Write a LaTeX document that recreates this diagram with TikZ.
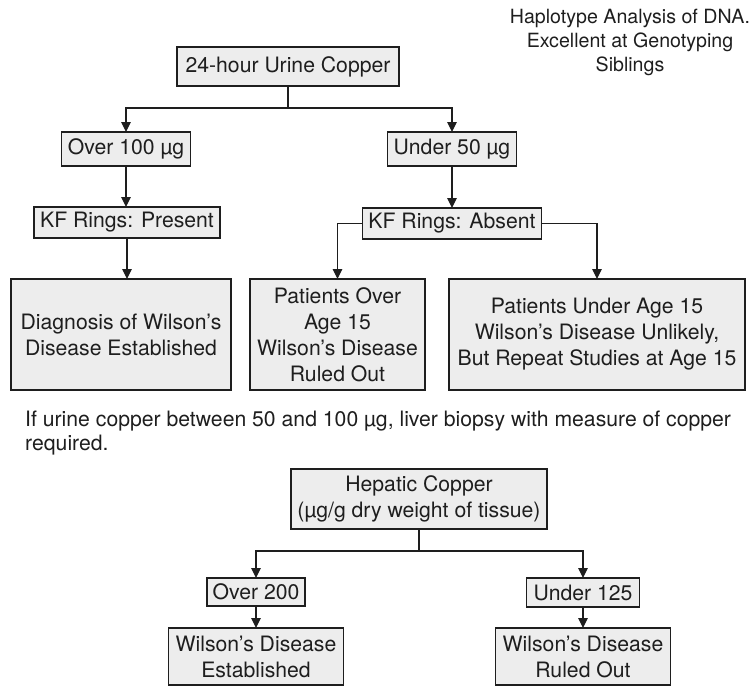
\documentclass[tikz,border=0pt]{standalone}
\usepackage{fontspec}
\setmainfont{TeX Gyre Heros}
\usetikzlibrary{arrows.meta}
\definecolor{boxfill}{HTML}{EDEDED}
\definecolor{ink}{HTML}{1E1E1E}
\begin{document}
\begin{tikzpicture}[x=1pt,y=-1pt,
  every node/.style={font=\fontsize{21.2}{26}\selectfont, text=ink},
  box/.style={draw=ink, line width=1.2pt, fill=boxfill, align=center,
    inner sep=0pt, outer sep=0pt},
  link/.style={draw=ink, line width=1.2pt},
  flow/.style={link, -{Triangle[length=10pt,width=9.5pt]}}]
\useasboundingbox (0,0) rectangle (749,691);

% top-right note
\node (note) at (630,42) [align=center, font=\fontsize{19.6}{24}\selectfont]
  {Haplotype Analysis of DNA.\\Excellent at Genotyping\\Siblings};

% urine copper tree
\node[box, minimum width=222pt, minimum height=39pt] (urine) at (288,66.5) {24-hour Urine Copper};
\node[box, minimum width=129pt, minimum height=34pt] (over100) at (126,149) {Over 100 \textmu g};
\node[box, minimum width=129pt, minimum height=34pt] (under50) at (452,149) {Under 50 \textmu g};
\node[box, minimum width=186pt, minimum height=31pt] (kfp) at (127,222.5) {KF Rings: Present};
\node[box, minimum width=179pt, minimum height=31pt] (kfa) at (452,223.5) {KF Rings: Absent};
\node[box, minimum width=220pt, minimum height=111pt] (diag) at (121,334.5)
  {Diagnosis of Wilson’s\\Disease Established};
\node[box, minimum width=175pt, minimum height=111pt] (pover) at (337.5,334.5)
  {Patients Over\\Age 15\\Wilson’s Disease\\Ruled Out};
\node[box, minimum width=296pt, minimum height=111pt] (punder) at (597,334.5)
  {Patients Under Age 15\\Wilson’s Disease Unlikely,\\But Repeat Studies at Age 15};

\coordinate (split) at (288,108);
\draw[link] (urine.south) -- (split);
\draw[flow] (split) -| (over100.north);
\draw[flow] (split) -| (under50.north);
\draw[flow] (over100.south) -- (over100.south |- kfp.north);
\draw[flow] (under50.south) -- (kfa.north);
\draw[flow] (kfp.south) -- (kfp.south |- diag.north);
\draw[flow] (kfa.west) -| (pover.north);
\draw[flow] (kfa.east) -| (punder.north);

% biopsy note
\node (biopsy) at (25,411) [anchor=north west, align=left, inner sep=0pt,
  font=\fontsize{21.2}{24}\selectfont]
  {If urine copper between 50 and 100 \textmu g, liver biopsy with measure of copper\\required.};

% hepatic copper tree
\node[box, minimum width=256pt, minimum height=60pt] (hep) at (419,499)
  {Hepatic Copper\\(\textmu g/g dry weight of tissue)};
\node[box, minimum width=98pt, minimum height=28pt] (over200) at (256,592) {Over 200};
\node[box, minimum width=113pt, minimum height=29pt] (under125) at (583,592.5) {Under 125};
\node[box, minimum width=175pt, minimum height=57pt] (wde) at (256,656.5)
  {Wilson’s Disease\\Established};
\node[box, minimum width=175pt, minimum height=57pt] (wdro) at (583,656.5)
  {Wilson’s Disease\\Ruled Out};

\coordinate (hsplit) at (419,551);
\draw[link] (hep.south) -- (hsplit);
\draw[flow] (hsplit) -| (over200.north);
\draw[flow] (hsplit) -| (under125.north);
\draw[flow] (over200.south) -- (wde.north);
\draw[flow] (under125.south) -- (wdro.north);
\end{tikzpicture}
\end{document}
